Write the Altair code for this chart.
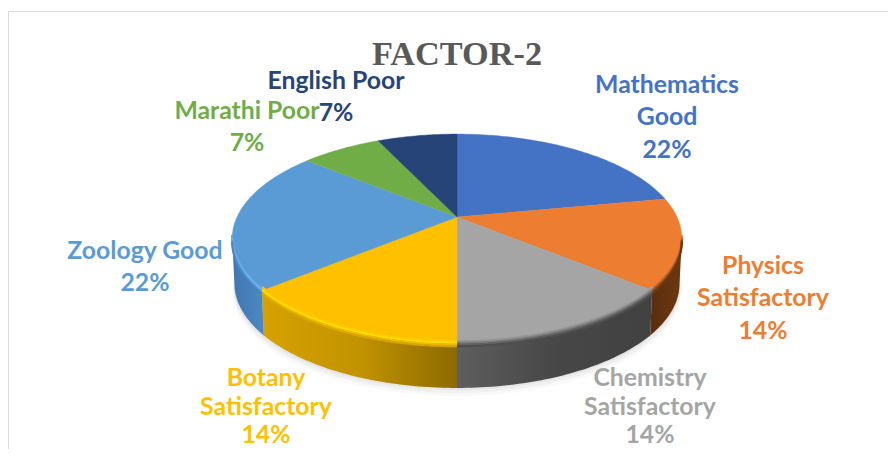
import math
import altair as alt

TITLE = "FACTOR-2"
CATEGORIES = ["Mathematics Good", "Physics Satisfactory", "Chemistry Satisfactory",
              "Botany Satisfactory", "Zoology Good", "Marathi Poor", "English Poor"]
VALUES = [22, 14, 14, 14, 22, 7, 7]
COLORS = ["#4472c4", "#ed7d31", "#a5a5a5", "#ffc000", "#5b9bd5", "#70ad47", "#264478"]

LABEL_LINES = [["Mathematics", "Good", "22%"], ["Physics", "Satisfactory", "14%"],
               ["Chemistry", "Satisfactory", "14%"], ["Botany", "Satisfactory", "14%"],
               ["Zoology Good", "22%"], ["Marathi Poor", "7%"], ["English Poor", "7%"]]
LABEL_POS = [(667, 85.5), (763, 266.5), (650, 379), (266, 379), (145, 251.5), (247, 111.5), (336, 81.5)]
LINE_GAPS = [32.7, 32.7, 28.5, 28.5, 32.7, 32.7, 32.7]

SIDE_STOPS = {1: ["#5a2d0e", "#6e3810"], 2: ["#5e5e5e", "#474747", "#414141"],
              3: ["#d6a200", "#c29300", "#8c6a00"], 4: ["#3f76b0", "#4d89c3"]}
BEVEL = {1: ["#ed7d31", "#d56f2b", "#ad5a22", "#854519", "#693712"],
         2: ["#a5a5a5", "#959595", "#7c7c7c", "#626262", "#4e4e4e"],
         3: ["#ffc000", "#ffcb00", "#ffe000", "#f2b900", "#d9a600"],
         4: ["#5b9bd5", "#64a8e4", "#6cb4f0", "#5a9ad6", "#4b86c0"]}

CX, CY, F, G, K, DEPTH = 457 - 8, 217 - 8, 220, 100, 0.206, 45


def rim(deg, dy=0.0, shrink=1.0):
    t = math.radians(deg)
    X, Y = math.sin(t), math.cos(t)
    w = 1 + K * Y
    return [CX + shrink * F * X / w, CY - G * Y / w + dy]


def arc(a, b, dy=0.0, shrink=1.0):
    n = max(2, int(abs(b - a)) + 1)
    return [rim(a + (b - a) * i / (n - 1), dy, shrink) for i in range(n)]


def feature(kind, coords):
    return {"type": "Feature", "properties": {},
            "geometry": {"type": kind, "coordinates": coords}}


def geo(feat, **mark):
    return alt.Chart(alt.Data(values=[feat])).mark_geoshape(**mark).project(
        type="identity", scale=1, translate=[0, 0])


layers = []
# frame lines
layers.append(alt.Chart(alt.Data(values=[{"a": 0}])).mark_rule(color="#d9d9d9", strokeWidth=1.5).encode(
    x=alt.value(0.2), y=alt.value(3), y2=alt.value(441)))
layers.append(alt.Chart(alt.Data(values=[{"a": 0}])).mark_rule(color="#d9d9d9", strokeWidth=1.2).encode(
    x=alt.value(0), x2=alt.value(880), y=alt.value(3.5)))

total = sum(VALUES)
edges = [0.0]
for v in VALUES:
    edges.append(edges[-1] + 360.0 * v / total)

TANGENT = math.degrees(math.acos(-K))
lo, hi = TANGENT, 360 - TANGENT

# soft shadow
for i, op in zip([8, 5, 2], [0.05, 0.07, 0.09]):
    ring = arc(0, 360, DEPTH + i, 0.995)
    layers.append(geo(feature("Polygon", [ring]), fill="#808080", fillOpacity=op, strokeWidth=0))

# side walls
for i in SIDE_STOPS:
    a, b = max(edges[i], lo), min(edges[i + 1], hi)
    poly = arc(a, b) + arc(b, a, DEPTH, 0.99)
    poly.append(poly[0])
    cols = SIDE_STOPS[i]
    stops = [alt.GradientStop(color=c, offset=j / (len(cols) - 1)) for j, c in enumerate(cols)]
    grad = alt.LinearGradient(gradient="linear", stops=stops, x1=0, x2=1, y1=0, y2=0)
    layers.append(geo(feature("Polygon", [poly]), fill=grad, strokeWidth=0))

# top face
for i, c in enumerate(COLORS):
    poly = [[CX, CY]] + arc(edges[i], edges[i + 1]) + [[CX, CY]]
    layers.append(geo(feature("Polygon", [poly]), fill=c, stroke=c, strokeWidth=0.4))

# rim bevel
for i, ramp in BEVEL.items():
    a, b = max(edges[i], lo), min(edges[i + 1], hi)
    for j, c in enumerate(ramp):
        line = arc(a, b, -3.5 + j * 1.7)
        layers.append(geo(feature("LineString", line), filled=False, stroke=c, strokeWidth=2.0))

# title
layers.append(alt.Chart(alt.Data(values=[{"t": TITLE}])).mark_text(
    font="Liberation Serif", fontWeight="bold", fontSize=34.3, color="#595959",
    align="center", baseline="middle").encode(text="t:N", x=alt.value(457 - 8), y=alt.value(55 - 8)))

# data labels
for lines, (lx, ly), c, gap in zip(LABEL_LINES, LABEL_POS, COLORS, LINE_GAPS):
    for k, s in enumerate(lines):
        layers.append(alt.Chart(alt.Data(values=[{"t": s}])).mark_text(
            font="Lato", fontWeight="bold", fontSize=24.8, color=c,
            align="center", baseline="middle").encode(
            text="t:N", x=alt.value(lx - 8), y=alt.value(ly - 8 + k * gap)))

chart = alt.layer(*layers).properties(
    width=880, height=441, padding=0, autosize=alt.AutoSizeParams(type="none"),
    background="white").configure_view(stroke=None)

chart.save("out.html", embed_options={"renderer": "svg", "actions": False})
